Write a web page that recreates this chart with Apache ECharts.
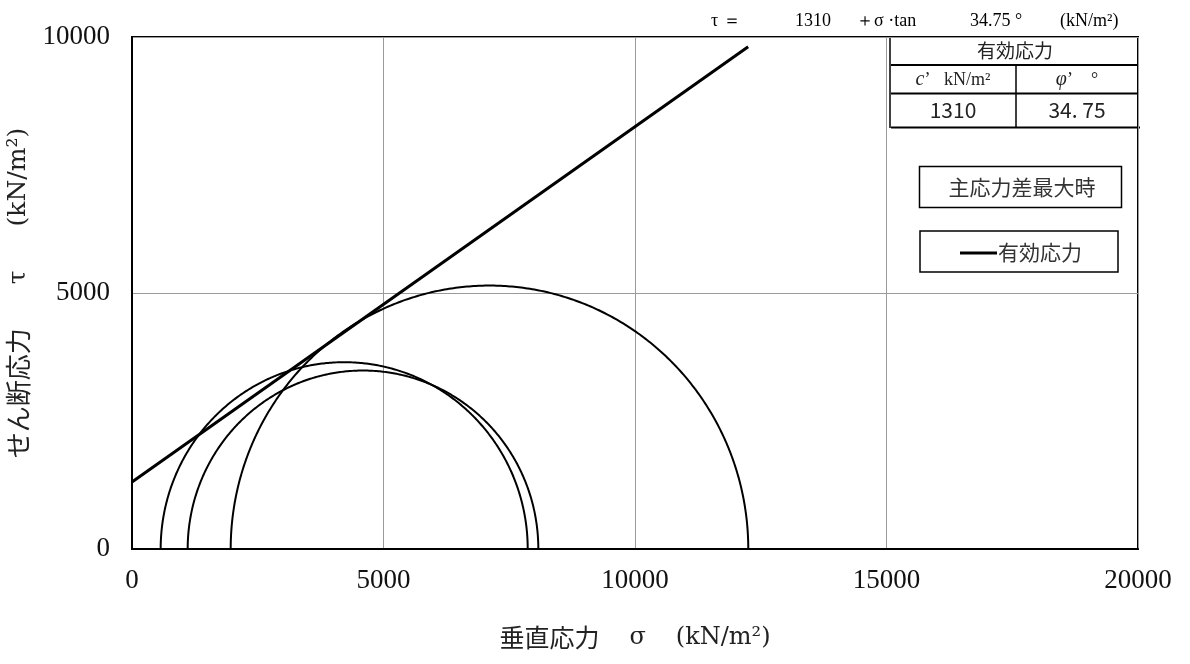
<!DOCTYPE html>
<html>
<head>
<meta charset="utf-8">
<script src="https://cdn.jsdelivr.net/npm/echarts@6/dist/echarts.min.js"></script>
<style>
html,body{margin:0;padding:0;background:#fff;}
#main{width:1190px;height:664px;}
</style>
</head>
<body>
<div id="main"></div>
<script>
// ---- data ----
const sigma3 = [570, 1107, 1962];        // minor principal stress of each Mohr circle
const sigma1 = [7867, 8078, 12252];      // major principal stress of each Mohr circle
const cohesion = 1310;                   // c' (kN/m2)
const phiDeg = 34.75;                    // phi' (deg)
const envelopeSigma = [0, 12250];        // sigma range of the failure envelope
const xMin = 0, xMax = 20000, xStep = 5000;
const yMin = 0, yMax = 10000, yStep = 5000;

const tanPhi = Math.tan(phiDeg * Math.PI / 180);
const envelopeData = envelopeSigma.map(s => [s, cohesion + s * tanPhi]);
const circleData = sigma3.map((s3, i) => [s3, sigma1[i]]);

const serif = "'Liberation Serif','DejaVu Serif',serif";
const wideSerif = "'DejaVu Serif','Liberation Serif',serif";
const cjk = "'Noto Sans CJK JP','Noto Sans',sans-serif";

const chart = echarts.init(document.getElementById('main'), null, {renderer: 'canvas'});

const xNameRich = {
  s: {fontFamily: wideSerif, fontSize: 24, color: '#222'},
  sp: {fontSize: 24, width: 30}
};
const yNameRich = {
  s: {fontFamily: wideSerif, fontSize: 25, color: '#222'},
  sp: {fontSize: 25, width: 44}
};

const option = {
  backgroundColor: '#fff',
  animation: false,
  grid: {left: 132, right: 52, top: 37, bottom: 115, outerBoundsMode: 'none', containLabel: false,
    show: true, borderColor: '#000', borderWidth: 2, backgroundColor: 'transparent'},
  xAxis: {
    type: 'value', min: xMin, max: xMax, interval: xStep,
    name: '垂直応力{sp|}{s|σ}{sp|}{s|(kN/m²)}', nameLocation: 'middle', nameGap: 76,
    nameTextStyle: {fontFamily: cjk, fontSize: 25, color: '#222', rich: xNameRich},
    axisLine: {show: true, lineStyle: {color: '#000', width: 2}},
    axisTick: {show: false},
    axisLabel: {fontFamily: serif, fontSize: 27, color: '#111', margin: 18, formatter: v => String(v)},
    splitLine: {show: true, lineStyle: {color: '#9a9a9a', width: 1}}
  },
  yAxis: {
    type: 'value', min: yMin, max: yMax, interval: yStep,
    name: 'せん断応力{sp|}{s|τ}{sp|}{s|(kN/m²)}', nameLocation: 'middle', nameGap: 90, nameRotate: 90,
    nameTextStyle: {fontFamily: cjk, fontSize: 26, color: '#222', rich: yNameRich},
    axisLine: {show: true, lineStyle: {color: '#000', width: 2}},
    axisTick: {show: false},
    axisLabel: {fontFamily: serif, fontSize: 27, color: '#111', margin: 22, formatter: v => String(v)},
    splitLine: {show: true, lineStyle: {color: '#9a9a9a', width: 1}}
  },
  series: [
    {
      type: 'custom',
      name: 'circles',
      coordinateSystem: 'cartesian2d',
      data: circleData,
      encode: {x: [0, 1]},
      clip: true,
      renderItem: function (params, api) {
        const s3 = api.value(0), s1 = api.value(1);
        const c = (s1 + s3) / 2, r = (s1 - s3) / 2;
        const pts = [];
        for (let a = 0; a <= 180; a += 0.5) {
          const t = a * Math.PI / 180;
          pts.push(api.coord([c - r * Math.cos(t), r * Math.sin(t)]));
        }
        return {type: 'polyline', shape: {points: pts}, style: {stroke: '#000', lineWidth: 2, fill: null}};
      }
    },
    {
      type: 'line',
      name: '有効応力',
      data: envelopeData,
      showSymbol: false,
      symbol: 'none',
      lineStyle: {color: '#000', width: 3},
      z: 5
    }
  ],
  graphic: [
    // equation
    {type: 'text', x: 711, y: 21, style: {text: 'τ ＝', font: '18px ' + serif, fill: '#000', verticalAlign: 'middle'}},
    {type: 'text', x: 795, y: 21, style: {text: String(cohesion), font: '18px ' + serif, fill: '#000', verticalAlign: 'middle'}},
    {type: 'text', x: 856, y: 21, style: {text: '＋σ ·tan', font: '18px ' + serif, fill: '#000', verticalAlign: 'middle'}},
    {type: 'text', x: 970, y: 21, style: {text: phiDeg.toFixed(2) + ' °', font: '18px ' + serif, fill: '#000', verticalAlign: 'middle'}},
    {type: 'text', x: 1060, y: 21, style: {text: '(kN/m²)', font: '18px ' + serif, fill: '#000', verticalAlign: 'middle'}},
    // table
    {type: 'line', shape: {x1: 890, y1: 37, x2: 890, y2: 128}, style: {stroke: '#000', lineWidth: 1.5}},
    {type: 'line', shape: {x1: 891, y1: 65, x2: 1139, y2: 65}, style: {stroke: '#000', lineWidth: 2}},
    {type: 'line', shape: {x1: 891, y1: 93.5, x2: 1139, y2: 93.5}, style: {stroke: '#000', lineWidth: 2}},
    {type: 'line', shape: {x1: 891, y1: 127.5, x2: 1140, y2: 127.5}, style: {stroke: '#000', lineWidth: 2}},
    {type: 'line', shape: {x1: 1016, y1: 65, x2: 1016, y2: 127.5}, style: {stroke: '#000', lineWidth: 1.5}},
    {type: 'text', x: 1015, y: 51, style: {text: '有効応力', font: '19px ' + cjk, fill: '#222', align: 'center', verticalAlign: 'middle'}},
    {type: 'text', x: 953, y: 80, style: {text: '{i|c}’   kN/m²', font: '18px ' + serif, fill: '#222', align: 'center', verticalAlign: 'middle',
      rich: {i: {fontStyle: 'italic', fontFamily: serif, fontSize: 20}}}},
    {type: 'text', x: 1077, y: 80, style: {text: '{i|φ}’    °', font: '18px ' + serif, fill: '#222', align: 'center', verticalAlign: 'middle',
      rich: {i: {fontStyle: 'italic', fontFamily: serif, fontSize: 20}}}},
    {type: 'text', x: 953, y: 110, style: {text: String(cohesion), font: '21px ' + cjk, fill: '#222', align: 'center', verticalAlign: 'middle'}},
    {type: 'text', x: 1077, y: 110, style: {text: phiDeg.toFixed(2).replace('.', '. '), font: '21px ' + cjk, fill: '#222', align: 'center', verticalAlign: 'middle'}},
    // legend boxes
    {type: 'rect', shape: {x: 919.5, y: 166.5, width: 202, height: 41}, style: {stroke: '#000', lineWidth: 1.5, fill: '#fff'}},
    {type: 'text', x: 1022, y: 187, style: {text: '主応力差最大時', font: '21px ' + cjk, fill: '#333', align: 'center', verticalAlign: 'middle'}},
    {type: 'rect', shape: {x: 920, y: 231, width: 198, height: 41}, style: {stroke: '#000', lineWidth: 1.5, fill: '#fff'}},
    {type: 'line', shape: {x1: 960, y1: 253, x2: 997, y2: 253}, style: {stroke: '#000', lineWidth: 3}},
    {type: 'text', x: 998, y: 252, style: {text: '有効応力', font: '21px ' + cjk, fill: '#333', align: 'left', verticalAlign: 'middle'}}
  ]
};
chart.setOption(option);
</script>
</body>
</html>
